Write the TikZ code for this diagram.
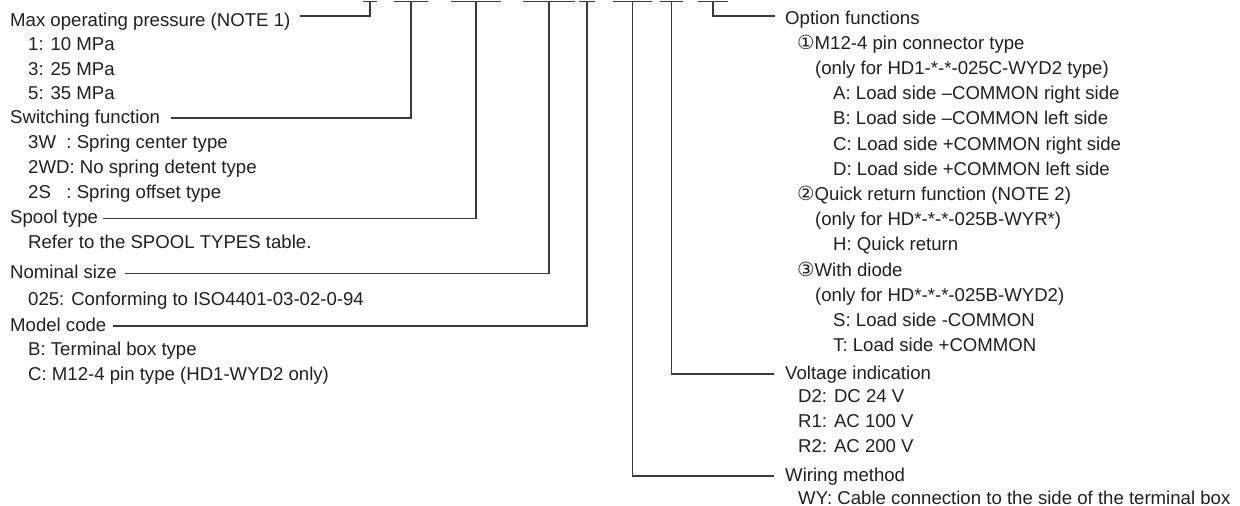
\documentclass[tikz,border=0pt]{standalone}
\usepackage{fontspec}
\setmainfont{Liberation Sans}
\newfontfamily\circfont{DejaVu Sans}
\newcommand{\circd}[1]{{\circfont\fontsize{19.5pt}{19.5pt}\selectfont #1}}
\definecolor{txtc}{HTML}{231F20}
\definecolor{linec}{HTML}{3A3A3A}
\begin{document}
\begin{tikzpicture}[x=1pt,y=-1pt,
  txt/.style={anchor=west,inner sep=0pt,text height=14pt,text depth=4pt,
    font=\fontsize{18.6pt}{22pt}\selectfont,text=txtc},
  ln/.style={draw=linec,line width=1.1pt},
  barln/.style={draw=linec,line width=1.3pt}]
\useasboundingbox (0,0) rectangle (1240,506);
% bar centres
\coordinate (t1) at (370,1.2);
\coordinate (t2) at (411,1.2);
\coordinate (t3) at (476,1.2);
\coordinate (t4) at (549,1.2);
\coordinate (t5) at (587,1.2);
\coordinate (t6) at (632.5,1.2);
\coordinate (t7) at (671.5,1.2);
\coordinate (t8) at (713,1.2);
\draw[barln] ([xshift=-7pt]t1) -- ([xshift=7pt]t1);
\draw[barln] ([xshift=-17pt]t2) -- ([xshift=17pt]t2);
\draw[barln] ([xshift=-25pt]t3) -- ([xshift=25pt]t3);
\draw[barln] ([xshift=-26pt]t4) -- ([xshift=26pt]t4);
\draw[barln] ([xshift=-8pt]t5) -- ([xshift=8pt]t5);
\draw[barln] ([xshift=-19.5pt]t6) -- ([xshift=19.5pt]t6);
\draw[barln] ([xshift=-11.5pt]t7) -- ([xshift=11.5pt]t7);
\draw[barln] ([xshift=-15pt]t8) -- ([xshift=15pt]t8);
% left column
\node[txt] (max) at (10,21) {Max operating pressure (NOTE 1)};
\node[txt] (p1) at (28,45.5) {1: 10 MPa};
\node[txt] (p3) at (28,70) {3: 25 MPa};
\node[txt] (p5) at (28,94.5) {5: 35 MPa};
\node[txt] (sw) at (10,118) {Switching function};
\node[txt] (w3) at (28,143) {3W\ \ : Spring center type};
\node[txt] (w2) at (28,168) {2WD: No spring detent type};
\node[txt] (s2) at (28,193) {2S\ \ \ : Spring offset type};
\node[txt] (sp) at (10,218.5) {Spool type};
\node[txt] (ref) at (28,243) {Refer to the SPOOL TYPES table.};
\node[txt] (nom) at (10,273.5) {Nominal size};
\node[txt] (n025) at (28,300) {025: Conforming to ISO4401-03-02-0-94};
\node[txt] (mod) at (10,326) {Model code};
\node[txt] (mb) at (28,350) {B: Terminal box type};
\node[txt] (mc) at (28,375) {C: M12-4 pin type (HD1-WYD2 only)};
% right column
\node[txt] (opt) at (785,19) {Option functions};
\node[txt] (o1) at (797,44.2) {\circd{①}M12-4 pin connector type};
\node[txt] (o1a) at (815,69.4) {(only for HD1-*-*-025C-WYD2 type)};
\node[txt] (oA) at (833,94.6) {A: Load side –COMMON right side};
\node[txt] (oB) at (833,119.8) {B: Load side –COMMON left side};
\node[txt] (oC) at (833,145) {C: Load side +COMMON right side};
\node[txt] (oD) at (833,170.2) {D: Load side +COMMON left side};
\node[txt] (o2) at (797,195.4) {\circd{②}Quick return function (NOTE 2)};
\node[txt] (o2a) at (815,220.6) {(only for HD*-*-*-025B-WYR*)};
\node[txt] (oH) at (833,245.8) {H: Quick return};
\node[txt] (o3) at (797,271) {\circd{③}With diode};
\node[txt] (o3a) at (815,296.2) {(only for HD*-*-*-025B-WYD2)};
\node[txt] (oS) at (833,321.4) {S: Load side -COMMON};
\node[txt] (oT) at (833,346.6) {T: Load side +COMMON};
\node[txt] (volt) at (785,374) {Voltage indication};
\node[txt] (vD2) at (798,397.5) {D2: DC 24 V};
\node[txt] (vR1) at (798,422.5) {R1: AC 100 V};
\node[txt] (vR2) at (798,447.5) {R2: AC 200 V};
\node[txt] (wir) at (785,476) {Wiring method};
\node[txt] (wy) at (798,499.5) {WY: Cable connection to the side of the terminal box};
% connectors
\draw[ln] (t1) |- ([xshift=9pt,yshift=5pt]max.east);
\draw[ln] (t2) |- ([xshift=11pt]sw.east);
\draw[ln] (t3) |- ([xshift=5pt]sp.east);
\draw[ln] (t4) |- ([xshift=8pt]nom.east);
\draw[ln] (t5) |- ([xshift=6pt]mod.east);
\draw[ln] (t6) |- ([xshift=-11pt]wir.west);
\draw[ln] (t7) |- ([xshift=-11pt]volt.west);
\draw[ln] (t8) |- ([xshift=-10pt,yshift=3pt]opt.west);
\end{tikzpicture}
\end{document}
